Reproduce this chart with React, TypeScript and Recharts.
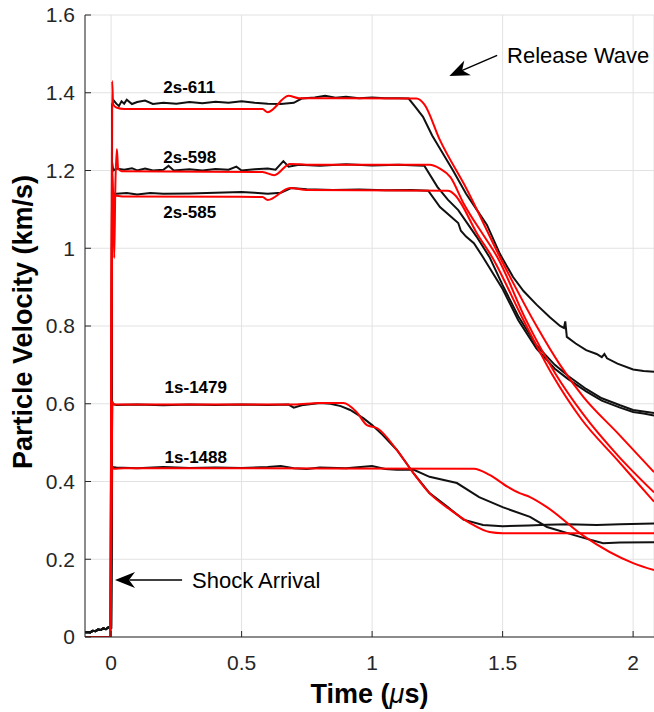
import React from "react";
import {
  CartesianGrid,
  Label,
  Line,
  LineChart,
  ReferenceDot,
  ReferenceLine,
  XAxis,
  YAxis
} from "recharts";

type Pt = [number, number];

const xTicks = [0, 0.5, 1, 1.5, 2];
const yTicks = [0, 0.2, 0.4, 0.6, 0.8, 1, 1.2, 1.4, 1.6];
const yTickLabels = ["0", "0.2", "0.4", "0.6", "0.8", "1", "1.2", "1.4", "1.6"];

// signal before the shock reaches the gauge (time in us, velocity in km/s)
const preShock: Pt[] = [
  [-0.1, 0.012], [-0.09, 0.013], [-0.08, 0.012], [-0.07, 0.016], [-0.06, 0.015],
  [-0.05, 0.019], [-0.04, 0.018], [-0.03, 0.022], [-0.02, 0.02], [-0.01, 0.025],
  [0.0, 0.024]
];

// experiments (black)
const exp611: Pt[] = [
  [0.004, 1.37], [0.01, 1.38], [0.02, 1.372], [0.03, 1.366], [0.04, 1.378], [0.05, 1.372],
  [0.06, 1.382], [0.08, 1.371], [0.1, 1.376], [0.13, 1.38], [0.16, 1.371], [0.2, 1.374],
  [0.25, 1.372], [0.3, 1.376], [0.35, 1.373], [0.4, 1.377], [0.45, 1.374], [0.5, 1.378],
  [0.55, 1.374], [0.6, 1.372], [0.65, 1.371], [0.7, 1.374], [0.73, 1.385], [0.78, 1.388],
  [0.82, 1.392], [0.86, 1.387], [0.9, 1.39], [0.95, 1.386], [1.0, 1.388], [1.05, 1.386],
  [1.1, 1.386], [1.14, 1.385], [1.17, 1.36], [1.195, 1.338], [1.23, 1.29], [1.27, 1.245],
  [1.31, 1.2], [1.36, 1.14], [1.4, 1.1], [1.44, 1.06], [1.49, 0.985], [1.54, 0.926],
  [1.58, 0.89], [1.63, 0.855], [1.68, 0.823], [1.72, 0.8], [1.735, 0.795], [1.74, 0.812],
  [1.746, 0.772], [1.78, 0.755], [1.82, 0.738], [1.86, 0.728], [1.88, 0.72], [1.89, 0.728],
  [1.9, 0.717], [1.94, 0.703], [2.0, 0.688], [2.04, 0.684], [2.08, 0.682]
];
const exp598: Pt[] = [
  [0.004, 1.22], [0.008, 1.2], [0.02, 1.205], [0.05, 1.202], [0.08, 1.206], [0.1, 1.2],
  [0.13, 1.205], [0.16, 1.2], [0.2, 1.202], [0.22, 1.212], [0.24, 1.2], [0.3, 1.203],
  [0.35, 1.2], [0.4, 1.204], [0.45, 1.202], [0.48, 1.21], [0.5, 1.2], [0.55, 1.203],
  [0.6, 1.205], [0.63, 1.202], [0.66, 1.224], [0.68, 1.21], [0.72, 1.215], [0.8, 1.212],
  [0.9, 1.216], [1.0, 1.213], [1.1, 1.215], [1.2, 1.212], [1.25, 1.158], [1.29, 1.125],
  [1.33, 1.098], [1.4, 1.03], [1.45, 0.977], [1.5, 0.905], [1.56, 0.825], [1.63, 0.75],
  [1.7, 0.7], [1.75, 0.672], [1.82, 0.638], [1.88, 0.614], [1.95, 0.596], [2.0, 0.584],
  [2.04, 0.58], [2.08, 0.576]
];
const exp585: Pt[] = [
  [0.004, 1.14], [0.02, 1.14], [0.06, 1.142], [0.1, 1.138], [0.15, 1.142], [0.2, 1.14],
  [0.3, 1.141], [0.4, 1.143], [0.5, 1.145], [0.55, 1.143], [0.6, 1.14], [0.65, 1.143],
  [0.69, 1.155], [0.75, 1.152], [0.85, 1.15], [0.95, 1.151], [1.05, 1.149], [1.15, 1.15],
  [1.215, 1.148], [1.26, 1.106], [1.33, 1.065], [1.34, 1.045], [1.36, 1.03], [1.39, 1.013],
  [1.425, 0.977], [1.5, 0.895], [1.56, 0.815], [1.63, 0.742], [1.7, 0.69], [1.75, 0.664],
  [1.82, 0.632], [1.88, 0.608], [1.95, 0.59], [2.0, 0.579], [2.04, 0.575], [2.08, 0.57]
];
const exp1479: Pt[] = [
  [0.004, 0.6], [0.02, 0.597], [0.1, 0.598], [0.2, 0.596], [0.3, 0.598], [0.4, 0.597],
  [0.5, 0.598], [0.6, 0.597], [0.68, 0.598], [0.7, 0.59], [0.73, 0.596], [0.8, 0.602],
  [0.84, 0.6], [0.88, 0.594], [0.916, 0.584], [0.966, 0.563], [1.0, 0.545], [1.04, 0.52],
  [1.095, 0.481], [1.16, 0.42], [1.22, 0.37], [1.29, 0.334], [1.35, 0.302], [1.425, 0.288],
  [1.5, 0.285], [1.6, 0.287], [1.67, 0.289], [1.75, 0.29], [1.86, 0.288], [1.95, 0.29],
  [2.08, 0.292]
];
const exp1488: Pt[] = [
  [0.004, 0.437], [0.02, 0.436], [0.1, 0.434], [0.2, 0.437], [0.3, 0.435], [0.4, 0.436],
  [0.5, 0.435], [0.6, 0.437], [0.65, 0.44], [0.7, 0.434], [0.75, 0.432], [0.8, 0.436],
  [0.9, 0.434], [1.0, 0.44], [1.05, 0.432], [1.095, 0.43], [1.16, 0.43], [1.22, 0.412],
  [1.325, 0.396], [1.41, 0.36], [1.5, 0.334], [1.605, 0.309], [1.67, 0.283], [1.8, 0.257],
  [1.885, 0.241], [1.95, 0.243], [2.08, 0.244]
];

// simulations (red)
const sim611: Pt[] = [
  [-0.1, 0], [-0.003, 0], [0.001, 0.7], [0.004, 1.43], [0.008, 1.37], [0.02, 1.362],
  [0.05, 1.358], [0.58, 1.358], [0.6, 1.35], [0.68, 1.392], [0.72, 1.386], [1.17, 1.385],
  [1.2, 1.37], [1.26, 1.278], [1.364, 1.15], [1.49, 0.977], [1.63, 0.8], [1.72, 0.7],
  [1.81, 0.617], [1.94, 0.525], [2.08, 0.424]
];
const sim598: Pt[] = [
  [-0.1, 0], [-0.003, 0], [0.002, 1.0], [0.005, 1.2], [0.009, 1.1], [0.012, 0.975],
  [0.016, 1.15], [0.022, 1.255], [0.027, 1.205], [0.04, 1.198], [0.58, 1.196], [0.625, 1.188],
  [0.686, 1.217], [0.75, 1.215], [1.22, 1.215], [1.26, 1.205], [1.3, 1.183], [1.35, 1.116],
  [1.43, 1.03], [1.48, 0.977], [1.59, 0.815], [1.7, 0.68], [1.81, 0.572], [1.94, 0.468],
  [2.08, 0.372]
];
const sim585: Pt[] = [
  [-0.1, 0], [-0.003, 0], [0.002, 0.9], [0.006, 1.1], [0.01, 1.13], [0.02, 1.135],
  [0.05, 1.133], [0.58, 1.132], [0.6, 1.124], [0.686, 1.155], [0.75, 1.15], [1.29, 1.148],
  [1.32, 1.135], [1.34, 1.116], [1.4, 1.04], [1.46, 0.977], [1.58, 0.815], [1.69, 0.675],
  [1.8, 0.562], [1.94, 0.455], [2.08, 0.348]
];
const sim1479: Pt[] = [
  [-0.1, 0], [-0.003, 0], [0.002, 0.4], [0.005, 0.605], [0.01, 0.598], [0.05, 0.598],
  [0.7, 0.598], [0.8, 0.602], [0.89, 0.602], [0.94, 0.579], [0.98, 0.545], [1.02, 0.537],
  [1.095, 0.481], [1.16, 0.42], [1.22, 0.37], [1.3, 0.327], [1.375, 0.293], [1.45, 0.27],
  [1.5, 0.267], [2.08, 0.267]
];
const sim1488: Pt[] = [
  [-0.1, 0], [-0.003, 0], [0.003, 0.437], [0.01, 0.433], [0.05, 0.434], [1.39, 0.433],
  [1.45, 0.417], [1.52, 0.386], [1.565, 0.37], [1.605, 0.36], [1.67, 0.334], [1.81, 0.26],
  [2.0, 0.19], [2.08, 0.172]
];

const shotLabels = [
  { name: "2s-611", t: 0.2, v: 1.399 },
  { name: "2s-598", t: 0.2, v: 1.219 },
  { name: "2s-585", t: 0.2, v: 1.078 },
  { name: "1s-1479", t: 0.205, v: 0.628 },
  { name: "1s-1488", t: 0.205, v: 0.448 }
];

const toRows = (pts: Pt[]) => pts.map(([t, v]) => ({ t, v }));

const experiments = [exp611, exp598, exp585, exp1479, exp1488].map((s) =>
  toRows([...preShock, ...s])
);
const simulations = [sim611, sim598, sim585, sim1479, sim1488].map(toRows);

const FONT = '"Liberation Sans", Arial, Helvetica, sans-serif';
const INK = "#262626";

const textShape = (text: string, size: number, weight: string) => (p: any) => (
  <text x={p.cx} y={p.cy} fontSize={size} fontWeight={weight} fill="#000" fontFamily={FONT}>
    {text}
  </text>
);

const arrowHead = (angle: number) => (p: any) => (
  <polygon
    points="0,0 -20,-8 -14,0 -20,8"
    transform={`translate(${p.cx},${p.cy}) rotate(${angle})`}
    fill="#000"
  />
);

export default function App() {
  return (
    <div
      style={{
        position: "absolute",
        left: 0,
        top: 0,
        width: 654,
        height: 712,
        background: "#fff",
        fontFamily: FONT
      }}
    >
      <LineChart width={654} height={712} margin={{ top: 15, right: 0, bottom: 0, left: 0 }}>
        <CartesianGrid stroke="#e2e2e2" strokeWidth={1} />
        <XAxis
          type="number"
          dataKey="t"
          domain={[-0.1, 2.08]}
          allowDataOverflow
          ticks={xTicks}
          interval={0}
          height={75}
          tickSize={-6}
          tickMargin={24}
          axisLine={{ stroke: INK }}
          tickLine={{ stroke: INK }}
          tick={{ fill: INK, fontSize: 21, fontFamily: FONT }}
        >
          <Label
            content={(p: any) => {
              const vb = p.viewBox || { x: 85, width: 569, y: 637 };
              return (
                <text
                  x={vb.x + vb.width / 2}
                  y={vb.y + 66}
                  textAnchor="middle"
                  fontSize={27}
                  fontWeight="bold"
                  fill="#000"
                  fontFamily={FONT}
                >
                  Time (<tspan fontStyle="italic" fontWeight="normal">μ</tspan>s)
                </text>
              );
            }}
          />
        </XAxis>
        <XAxis
          xAxisId="top"
          orientation="top"
          type="number"
          domain={[-0.1, 2.08]}
          allowDataOverflow
          ticks={xTicks}
          height={0}
          tickSize={-6}
          tick={false}
          axisLine={{ stroke: INK }}
          tickLine={{ stroke: INK }}
        />
        <YAxis
          type="number"
          domain={[0, 1.6]}
          allowDataOverflow
          ticks={yTicks}
          interval={0}
          width={85}
          tickSize={-6}
          tickMargin={16}
          tickFormatter={(v: number) => yTickLabels[yTicks.indexOf(v)] ?? String(v)}
          axisLine={{ stroke: INK }}
          tickLine={{ stroke: INK }}
          tick={{ fill: INK, fontSize: 21, fontFamily: FONT }}
        >
          <Label
            content={(p: any) => {
              const vb = p.viewBox || { x: 0, y: 15, height: 622 };
              const cy = vb.y + vb.height / 2 - 4;
              return (
                <text
                  x={32}
                  y={cy}
                  transform={`rotate(-90, 32, ${cy})`}
                  textAnchor="middle"
                  fontSize={27}
                  fontWeight="bold"
                  fill="#000"
                  fontFamily={FONT}
                >
                  Particle Velocity (km/s)
                </text>
              );
            }}
          />
        </YAxis>
        <YAxis
          yAxisId="right"
          orientation="right"
          type="number"
          domain={[0, 1.6]}
          ticks={yTicks}
          width={0}
          tickSize={-6}
          tick={false}
          axisLine={{ stroke: INK }}
          tickLine={{ stroke: INK }}
        />

        {experiments.map((d, i) => (
          <Line
            key={`exp-${i}`}
            data={d}
            dataKey="v"
            type="linear"
            stroke="#111111"
            strokeWidth={2}
            dot={false}
            isAnimationActive={false}
          />
        ))}
        {simulations.map((d, i) => (
          <Line
            key={`sim-${i}`}
            data={d}
            dataKey="v"
            type="monotone"
            stroke="#ff0000"
            strokeWidth={2}
            dot={false}
            isAnimationActive={false}
          />
        ))}

        {shotLabels.map((l) => (
          <ReferenceDot
            key={l.name}
            x={l.t}
            y={l.v}
            r={1}
            ifOverflow="visible"
            shape={textShape(l.name, 17, "bold")}
          />
        ))}

        <ReferenceLine
          segment={[
            { x: 1.479, y: 1.496 },
            { x: 1.33, y: 1.453 }
          ]}
          stroke="#000"
          strokeWidth={1.5}
          ifOverflow="visible"
        />
        <ReferenceDot x={1.296} y={1.443} r={1} ifOverflow="visible" shape={arrowHead(155.8)} />
        <ReferenceDot
          x={1.517}
          y={1.4765}
          r={1}
          ifOverflow="visible"
          shape={textShape("Release Wave", 22, "normal")}
        />

        <ReferenceLine
          segment={[
            { x: 0.272, y: 0.1466 },
            { x: 0.07, y: 0.1466 }
          ]}
          stroke="#000"
          strokeWidth={1.5}
          ifOverflow="visible"
        />
        <ReferenceDot x={0.015} y={0.1466} r={1} ifOverflow="visible" shape={arrowHead(180)} />
        <ReferenceDot
          x={0.31}
          y={0.126}
          r={1}
          ifOverflow="visible"
          shape={textShape("Shock Arrival", 22, "normal")}
        />
      </LineChart>
    </div>
  );
}
